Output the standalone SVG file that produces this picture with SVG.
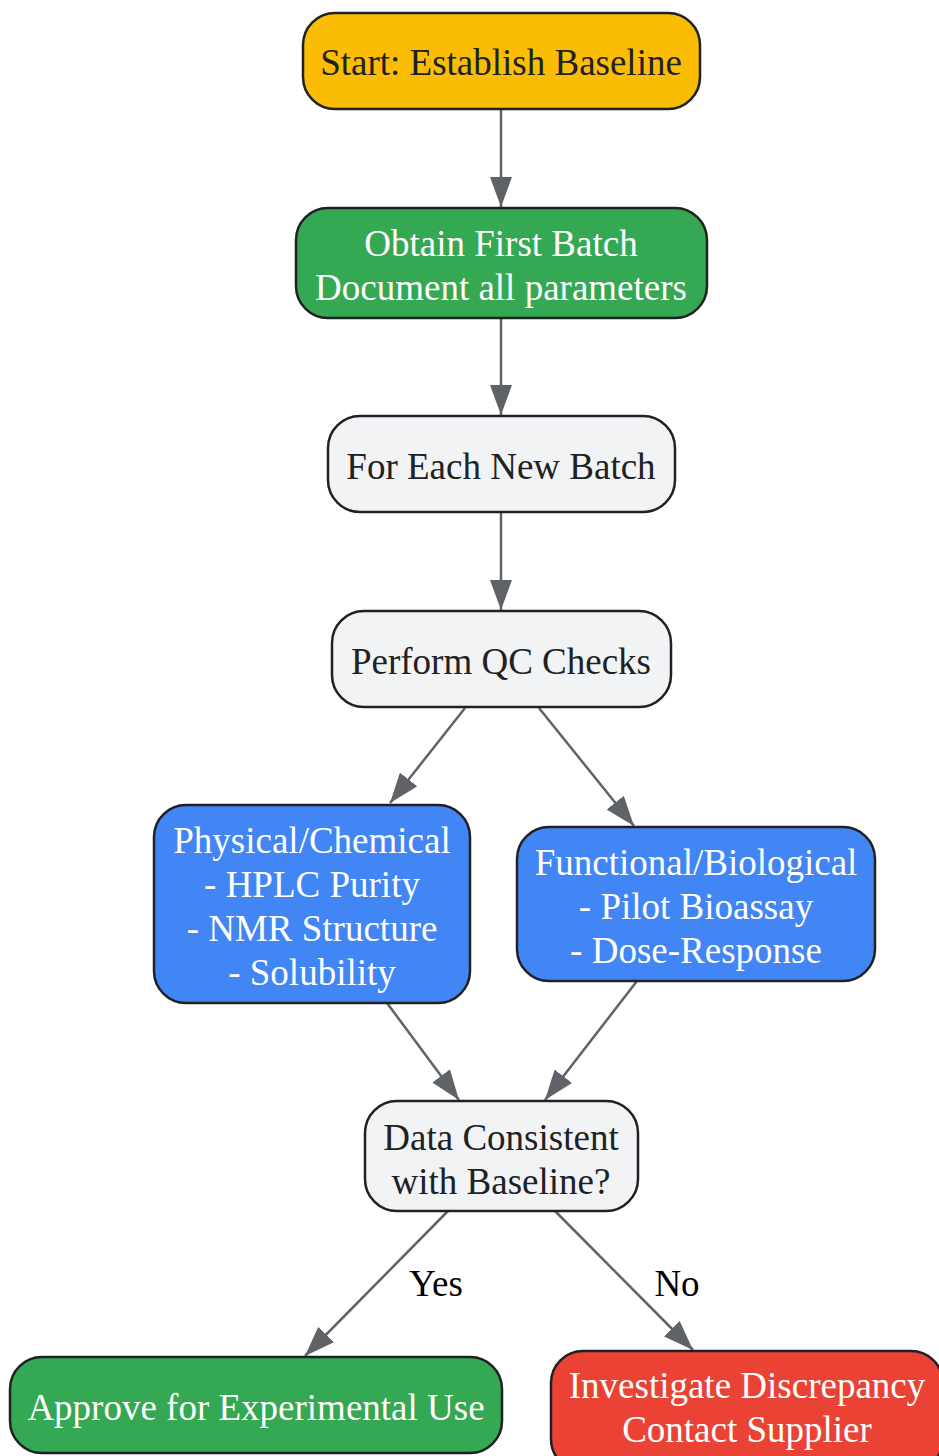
<svg xmlns="http://www.w3.org/2000/svg" width="939" height="1456" viewBox="0 0 939 1456">
<defs>
<style>
.node rect{stroke:#202124;stroke-width:2.5}
.t{font-family:"Liberation Serif","Times New Roman",serif;font-size:37px;text-anchor:middle;dominant-baseline:central}
.dark{fill:#202124}
.light{fill:#ffffff}
.edge{stroke:#5F6368;stroke-width:2.5;fill:none;marker-end:url(#arr)}
.lbl{font-family:"Liberation Serif","Times New Roman",serif;font-size:37px;text-anchor:middle;dominant-baseline:central;fill:#000000}
</style>
<marker id="arr" markerUnits="userSpaceOnUse" markerWidth="30" markerHeight="22" refX="30" refY="11" orient="auto" viewBox="0 0 30 22">
<path d="M0,0 L30,11 L0,22 z" fill="#5F6368"/>
</marker>
</defs>
<rect width="939" height="1456" fill="#ffffff"/>
<g id="connectors">
<line class="edge" x1="501" y1="109" x2="501" y2="207"/>
<line class="edge" x1="501" y1="318" x2="501" y2="415"/>
<line class="edge" x1="501" y1="512" x2="501" y2="610"/>
<line class="edge" x1="465" y1="708" x2="390" y2="803"/>
<line class="edge" x1="539" y1="708" x2="634" y2="826"/>
<line class="edge" x1="387" y1="1003" x2="459" y2="1100"/>
<line class="edge" x1="637" y1="981" x2="545" y2="1100"/>
<line class="edge" x1="448" y1="1211" x2="305" y2="1356"/>
<line class="edge" x1="555" y1="1211" x2="693" y2="1350"/>
<text class="lbl" x="436" y="1283">Yes</text>
<text class="lbl" x="677" y="1283">No</text>
</g>
<g id="start" class="node">
<rect x="303" y="13" width="397" height="96" rx="32" fill="#FBBC04"/>
<text class="t dark" x="501" y="62">Start: Establish Baseline</text>
</g>
<g id="obtain" class="node">
<rect x="296" y="208" width="411" height="110" rx="32" fill="#34A853"/>
<text class="t light" x="501" y="243">Obtain First Batch</text>
<text class="t light" x="501" y="287">Document all parameters</text>
</g>
<g id="foreach" class="node">
<rect x="328" y="416" width="347" height="96" rx="32" fill="#F1F3F4"/>
<text class="t dark" x="501" y="466">For Each New Batch</text>
</g>
<g id="qc" class="node">
<rect x="332" y="611" width="339" height="96" rx="32" fill="#F1F3F4"/>
<text class="t dark" x="501" y="661">Perform QC Checks</text>
</g>
<g id="physical" class="node">
<rect x="154" y="805" width="316" height="198" rx="32" fill="#4285F4"/>
<text class="t light" x="312" y="840">Physical/Chemical</text>
<text class="t light" x="312" y="884">- HPLC Purity</text>
<text class="t light" x="312" y="928">- NMR Structure</text>
<text class="t light" x="312" y="972">- Solubility</text>
</g>
<g id="functional" class="node">
<rect x="517" y="827" width="358" height="154" rx="32" fill="#4285F4"/>
<text class="t light" x="696" y="862">Functional/Biological</text>
<text class="t light" x="696" y="906">- Pilot Bioassay</text>
<text class="t light" x="696" y="950">- Dose-Response</text>
</g>
<g id="consistent" class="node">
<rect x="365" y="1101" width="273" height="110" rx="32" fill="#F1F3F4"/>
<text class="t dark" x="501" y="1137">Data Consistent</text>
<text class="t dark" x="501" y="1181">with Baseline?</text>
</g>
<g id="approve" class="node">
<rect x="10" y="1357" width="492" height="96" rx="32" fill="#34A853"/>
<text class="t light" x="256" y="1407">Approve for Experimental Use</text>
</g>
<g id="investigate" class="node">
<rect x="551" y="1351" width="392" height="120" rx="32" fill="#EA4335"/>
<text class="t light" x="747" y="1385">Investigate Discrepancy</text>
<text class="t light" x="747" y="1429">Contact Supplier</text>
</g>
</svg>
